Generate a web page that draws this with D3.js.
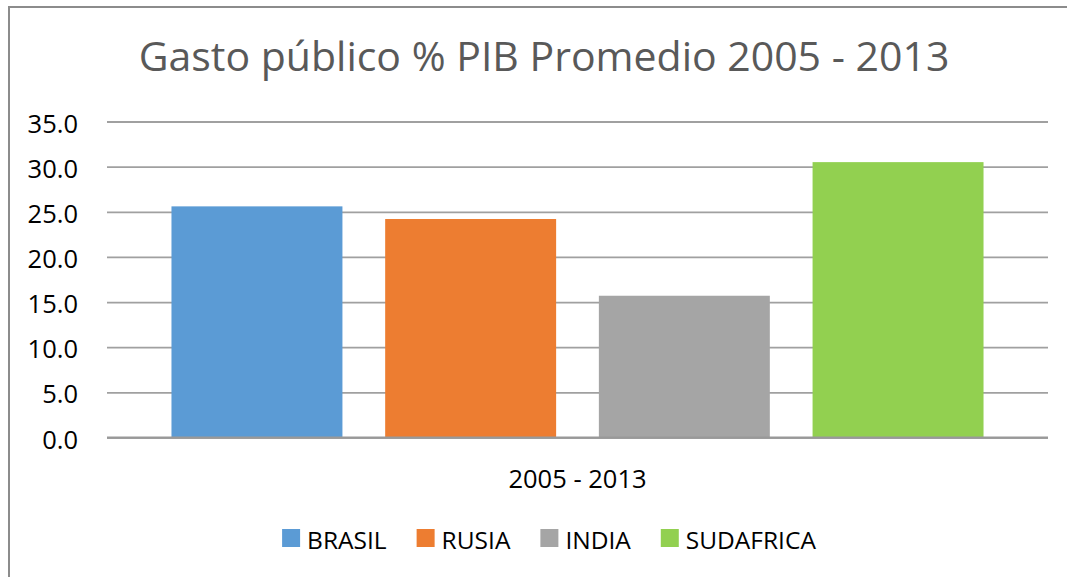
<!DOCTYPE html>
<html>
<head>
<meta charset="utf-8">
<script src="https://cdn.jsdelivr.net/npm/d3@7"></script>
<style>
  html, body { margin: 0; padding: 0; background: #fff; overflow: hidden; }
  svg { display: block; }
  svg text { font-family: "Open Sans", "Noto Sans", sans-serif; }
</style>
</head>
<body>
<div id="chart"></div>
<script>
// data
const categories = ['2005 - 2013'];
const seriesNames = ['BRASIL', 'RUSIA', 'INDIA', 'SUDAFRICA'];
const seriesValues = [25.6, 24.2, 15.7, 30.5];
const seriesColors = ['#5b9bd5', '#ed7d31', '#a5a5a5', '#92d050'];
const yTicks = [0, 5, 10, 15, 20, 25, 30, 35];
const title = 'Gasto público % PIB Promedio 2005 - 2013';

const W = 1067, H = 577;
const plot = {left: 107, right: 1048, top: 121.5, bottom: 437.5};

const svg = d3.select('#chart').append('svg')
    .attr('width', W)
    .attr('height', H);

svg.append('rect')
    .attr('width', W).attr('height', H)
    .attr('fill', '#fff');

// chart border: only the left and top edges are inside the picture
svg.append('path')
    .attr('d', 'M9,' + H + 'V7H' + W)
    .attr('fill', 'none')
    .attr('stroke', '#8c8c8c')
    .attr('stroke-width', 2);

svg.append('text')
    .attr('x', 544).attr('y', 71)
    .attr('text-anchor', 'middle')
    .attr('font-size', 41)
    .attr('fill', '#595959')
    .text(title);

const x0 = d3.scaleBand()
    .domain(categories)
    .range([plot.left, plot.right])
    .paddingInner(0)
    .paddingOuter(0.0794);

const x1 = d3.scaleBand()
    .domain(seriesNames)
    .range([0, x0.bandwidth()])
    .paddingInner(0.2)
    .paddingOuter(0);

const y = d3.scaleLinear()
    .domain([0, 35])
    .range([plot.bottom, plot.top]);

// y axis + gridlines
const yAxis = svg.append('g')
    .attr('transform', 'translate(' + plot.left + ',0)')
    .call(d3.axisLeft(y)
        .tickValues(yTicks)
        .tickFormat(d3.format('.1f'))
        .tickSize(-(plot.right - plot.left))
        .tickPadding(29));
yAxis.select('.domain').remove();
yAxis.selectAll('.tick line')
    .attr('stroke', '#a0a0a0')
    .attr('stroke-width', 1.8);
yAxis.selectAll('.tick text')
    .attr('dy', 0)
    .attr('y', 10.5)
    .attr('font-size', 25.5)
    .attr('fill', '#000');

// bars
const groups = svg.selectAll('.cat')
    .data(categories)
    .enter().append('g')
    .attr('class', 'cat')
    .attr('transform', d => 'translate(' + x0(d) + ',0)');

groups.selectAll('rect')
    .data(seriesNames.map((s, i) => ({name: s, value: seriesValues[i], color: seriesColors[i]})))
    .enter().append('rect')
    .attr('x', d => x1(d.name))
    .attr('width', x1.bandwidth())
    .attr('y', d => y(d.value))
    .attr('height', d => y(0) - y(d.value))
    .attr('fill', d => d.color);

// category axis
const xAxis = svg.append('g')
    .attr('transform', 'translate(0,' + plot.bottom + ')')
    .call(d3.axisBottom(x0).tickSize(0));
xAxis.select('.domain')
    .attr('stroke', '#999')
    .attr('stroke-width', 2)
    .attr('d', 'M' + plot.left + ',0H' + plot.right);
xAxis.selectAll('.tick text')
    .attr('dy', 0)
    .attr('y', 50.5)
    .attr('font-size', 25.5)
    .attr('fill', '#000');

// legend, centred under the chart
const legend = svg.append('g');
const items = legend.selectAll('.item')
    .data(seriesNames)
    .enter().append('g')
    .attr('class', 'item');
items.append('rect')
    .attr('y', 529)
    .attr('width', 18).attr('height', 18)
    .attr('fill', (d, i) => seriesColors[i]);
items.append('text')
    .attr('x', 25)
    .attr('y', 549)
    .attr('font-size', 24.5)
    .attr('fill', '#000')
    .text(d => d);

let pos = 0;
items.each(function () {
    const g = d3.select(this);
    g.attr('transform', 'translate(' + pos + ',0)');
    pos += 25 + g.select('text').node().getComputedTextLength() + 30;
});
const legendWidth = pos - 30;
legend.attr('transform', 'translate(' + (549 - legendWidth / 2) + ',0)');
</script>
</body>
</html>
